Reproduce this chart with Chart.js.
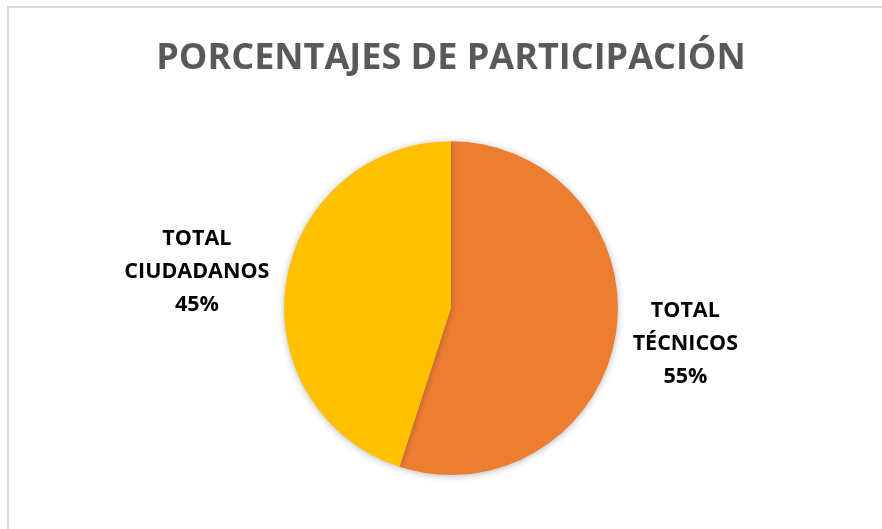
<!DOCTYPE html>
<html>
<head>
<meta charset="utf-8">
<script src="https://cdn.jsdelivr.net/npm/chart.js@4"></script>
<style>
  html, body { margin: 0; padding: 0; background: #fff; overflow: hidden; }
  #wrap { position: relative; width: 882px; height: 529px; }
  #frame { position: absolute; left: 7px; top: 6px; width: 900px; height: 600px; border: 2px solid #d9d9d9; box-sizing: border-box; }
  canvas { position: absolute; left: 0; top: 0; }
</style>
</head>
<body>
<div id="wrap">
  <div id="frame"></div>
  <canvas id="chart" width="882" height="529"></canvas>
</div>
<script>
const chartTitle = 'PORCENTAJES DE PARTICIPACIÓN';
const categories = [['TOTAL', 'TÉCNICOS'], ['TOTAL', 'CIUDADANOS']];
const values = [55, 45];
const colors = ['#ED7D31', '#FFC000'];

// draws the outside labels (name + percent) next to each slice,
// the block's near edge sits a little off the pie rim
const outsideLabels = {
    id: 'outsideLabels',
    afterDatasetsDraw(chart) {
        const ctx = chart.ctx;
        const meta = chart.getDatasetMeta(0);
        const total = values.reduce((a, b) => a + b, 0);
        ctx.save();
        ctx.font = 'bold 21.5px "Open Sans"';
        ctx.fillStyle = '#000';
        ctx.textAlign = 'center';
        ctx.textBaseline = 'middle';
        meta.data.forEach((arc, i) => {
            const p = arc.getProps(['x', 'y', 'startAngle', 'endAngle', 'outerRadius'], true);
            const mid = (p.startAngle + p.endAngle) / 2;
            const dist = p.outerRadius + 17;
            const ax = p.x + Math.cos(mid) * dist;
            const ay = p.y + Math.sin(mid) * dist * 1.25;
            const lines = categories[i].concat([Math.round(values[i] / total * 100) + '%']);
            const w = Math.max(...lines.map(t => ctx.measureText(t).width));
            const cx = Math.cos(mid) >= 0 ? ax + w / 2 : ax - w / 2;
            const lh = 33;
            lines.forEach((t, j) => {
                ctx.fillText(t, cx, ay + (j - (lines.length - 1) / 2) * lh);
            });
        });
        ctx.restore();
    }
};

// soft shadow under the pie
const pieShadow = {
    id: 'pieShadow',
    beforeDatasetsDraw(chart) {
        const ctx = chart.ctx;
        ctx.save();
        ctx.shadowColor = 'rgba(0,0,0,0.28)';
        ctx.shadowBlur = 7;
        ctx.shadowOffsetY = 1;
    },
    afterDatasetsDraw(chart) {
        chart.ctx.restore();
    }
};

new Chart(document.getElementById('chart'), {
    type: 'pie',
    data: {
        labels: categories,
        datasets: [{
            data: values,
            backgroundColor: colors,
            borderWidth: 0
        }]
    },
    options: {
        responsive: false,
        animation: false,
        layout: { padding: { left: 20, right: 0, top: 0, bottom: 54 } },
        plugins: {
            legend: { display: false },
            tooltip: { enabled: false },
            title: {
                display: true,
                text: chartTitle,
                color: '#595959',
                font: { family: '"Open Sans"', size: 36, weight: 'bold' },
                padding: { top: 37, bottom: 61 }
            }
        }
    },
    plugins: [pieShadow, outsideLabels]
});
</script>
</body>
</html>
